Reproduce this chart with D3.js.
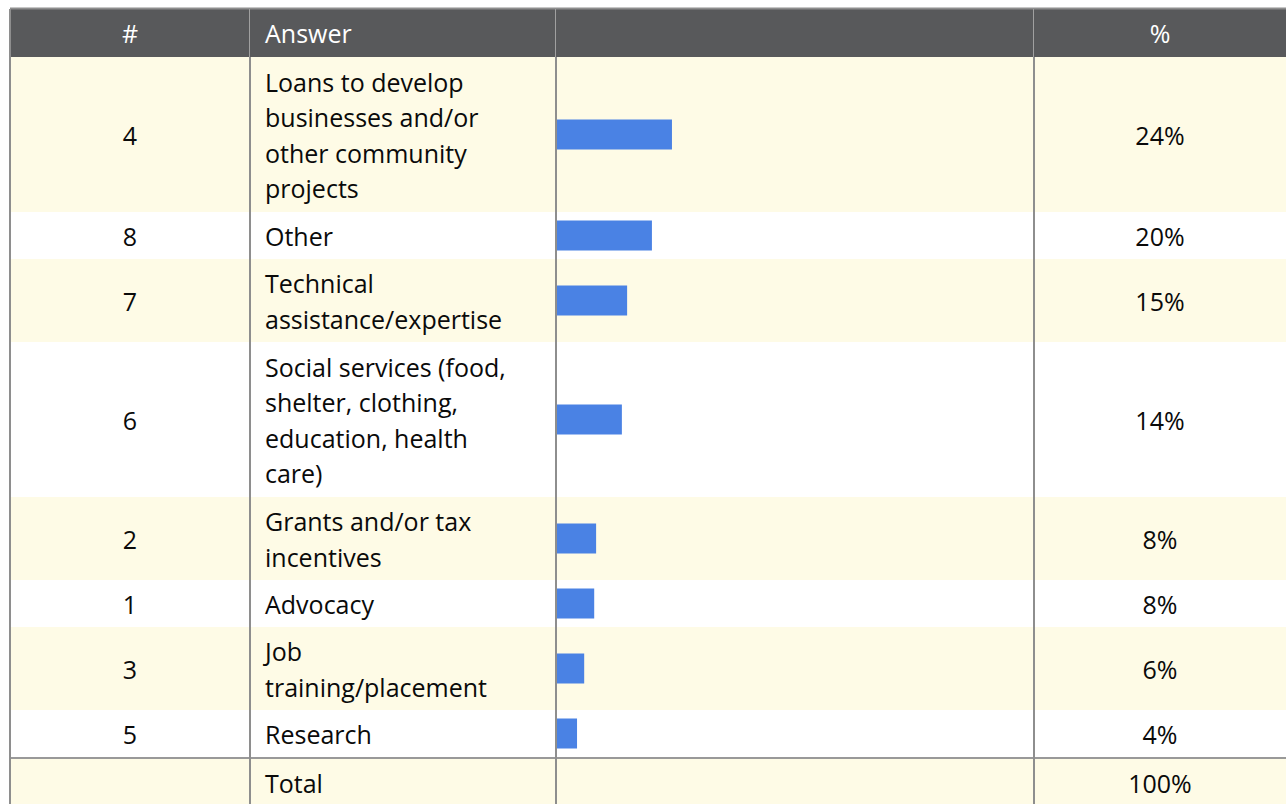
<!DOCTYPE html>
<html>
<head>
<meta charset="utf-8">
<script src="https://cdn.jsdelivr.net/npm/d3@7"></script>
<style>
html,body{margin:0;padding:0;background:#fff;}
svg{display:block;}
text{font-family:"Open Sans",sans-serif;}
</style>
</head>
<body>
<svg id="chart" width="1286" height="804"></svg>
<script>
// ---- data ----
const ids = ["4", "8", "7", "6", "2", "1", "3", "5"];
const answers = [
  "Loans to develop businesses and/or other community projects",
  "Other",
  "Technical assistance/expertise",
  "Social services (food, shelter, clothing, education, health care)",
  "Grants and/or tax incentives",
  "Advocacy",
  "Job training/placement",
  "Research"
];
const values = [24.1, 19.9, 14.7, 13.6, 8.2, 7.8, 5.7, 4.2];
const pctLabels = ["24%", "20%", "15%", "14%", "8%", "8%", "6%", "4%"];
const headers = ["#", "Answer", "", "%"];
const totalLabel = "Total";
const totalPct = "100%";

// ---- layout ----
const W = 1286, H = 804;
const svg = d3.select("#chart");
const colX = [10, 250, 556, 1034, 1286];
const topY = 9, headH = 48;
const lineH = 35.5;
const fontSize = 25;
const wrapWidth = 252;
const dyC = "0.41em";
const yellow = "#fefbe6";
const headBg = "#58595b";
const border = "#8e8e8e";
const barColor = "#4a82e4";
const ink = "#0a0a0a";

// measuring helper for wrapping
const meas = svg.append("text").attr("font-size", fontSize).attr("visibility", "hidden");
function wrap(str) {
  const words = str.split(" ");
  const lines = [];
  let cur = "";
  words.forEach(w => {
    const test = cur ? cur + " " + w : w;
    meas.text(test);
    if (cur && meas.node().getComputedTextLength() > wrapWidth) {
      lines.push(cur);
      cur = w;
    } else cur = test;
  });
  if (cur) lines.push(cur);
  return lines;
}
const wrapped = answers.map(wrap);
meas.remove();

// row geometry
const rows = [];
let yPos = topY + headH;
wrapped.forEach((lines, i) => {
  const h = 36 * lines.length + 11;
  rows.push({i, y: yPos, h, lines});
  yPos += h;
});
const sepY = yPos + 1;
const totalY = yPos + 2;
const totalH = 60;

// scale for bars
const x = d3.scaleLinear().domain([0, 100]).range([colX[2] + 1, colX[3]]);

// header
svg.append("rect").attr("x", colX[0]).attr("y", topY).attr("width", W - colX[0]).attr("height", headH).attr("fill", headBg);
svg.append("line").attr("x1", colX[0]).attr("x2", W).attr("y1", topY - 0.5).attr("y2", topY - 0.5)
  .attr("stroke", border).attr("stroke-width", 2);

// rows backgrounds
svg.selectAll("rect.row").data(rows).enter().append("rect")
  .attr("class", "row")
  .attr("x", colX[0]).attr("y", d => d.y).attr("width", W - colX[0]).attr("height", d => d.h)
  .attr("fill", d => d.i % 2 === 0 ? yellow : "#ffffff");

// total row
svg.append("rect").attr("x", colX[0]).attr("y", totalY).attr("width", W - colX[0]).attr("height", totalH).attr("fill", yellow);
svg.append("line").attr("x1", colX[0]).attr("x2", W).attr("y1", sepY).attr("y2", sepY)
  .attr("stroke", "#999999").attr("stroke-width", 2);

// vertical borders
[colX[0], colX[1], colX[2], colX[3]].forEach((cx, k) => {
  svg.append("line").attr("x1", cx).attr("x2", cx).attr("y1", topY + headH).attr("y2", H)
    .attr("stroke", border).attr("stroke-width", 2);
  if (k > 0) {
    svg.append("line").attr("x1", cx - 0.5).attr("x2", cx - 0.5).attr("y1", topY).attr("y2", topY + headH)
      .attr("stroke", "#a0a0a0").attr("stroke-width", 1);
  } else {
    svg.append("line").attr("x1", cx).attr("x2", cx).attr("y1", topY).attr("y2", topY + headH)
      .attr("stroke", border).attr("stroke-width", 2);
  }
});

// header texts
const headCY = topY + headH / 2;
const headPos = [
  {x: (colX[0] + colX[1]) / 2, anchor: "middle"},
  {x: colX[1] + 15, anchor: "start"},
  {x: (colX[2] + colX[3]) / 2, anchor: "middle"},
  {x: (colX[3] + colX[4]) / 2, anchor: "middle"}
];
svg.selectAll("text.head").data(headers).enter().append("text")
  .attr("class", "head")
  .attr("x", (d, i) => headPos[i].x).attr("y", headCY).attr("dy", dyC)
  .attr("text-anchor", (d, i) => headPos[i].anchor)
  .attr("font-size", fontSize).attr("fill", "#ffffff")
  .text(d => d);

// row contents
const g = svg.selectAll("g.r").data(rows).enter().append("g").attr("class", "r");
g.append("text")
  .attr("x", (colX[0] + colX[1]) / 2).attr("y", d => d.y + d.h / 2).attr("dy", dyC)
  .attr("text-anchor", "middle").attr("font-size", fontSize).attr("fill", ink)
  .text(d => ids[d.i]);
g.append("text")
  .attr("x", (colX[3] + colX[4]) / 2).attr("y", d => d.y + d.h / 2).attr("dy", dyC)
  .attr("text-anchor", "middle").attr("font-size", fontSize).attr("fill", ink)
  .text(d => pctLabels[d.i]);
g.each(function(d) {
  const t = d3.select(this).append("text")
    .attr("font-size", fontSize).attr("fill", ink);
  const n = d.lines.length;
  d.lines.forEach((ln, k) => {
    t.append("tspan")
      .attr("x", colX[1] + 15)
      .attr("y", d.y + d.h / 2 + (k - (n - 1) / 2) * lineH)
      .attr("dy", dyC)
      .text(ln);
  });
});
g.append("rect")
  .attr("x", x(0)).attr("y", d => d.y + d.h / 2 - 15)
  .attr("width", d => x(values[d.i]) - x(0)).attr("height", 30)
  .attr("fill", barColor);

// total texts
const totalCY = totalY + 23.5;
svg.append("text").attr("x", colX[1] + 15).attr("y", totalCY).attr("dy", dyC)
  .attr("font-size", fontSize).attr("fill", ink).text(totalLabel);
svg.append("text").attr("x", (colX[3] + colX[4]) / 2).attr("y", totalCY).attr("dy", dyC)
  .attr("text-anchor", "middle").attr("font-size", fontSize).attr("fill", ink).text(totalPct);
</script>
</body>
</html>
